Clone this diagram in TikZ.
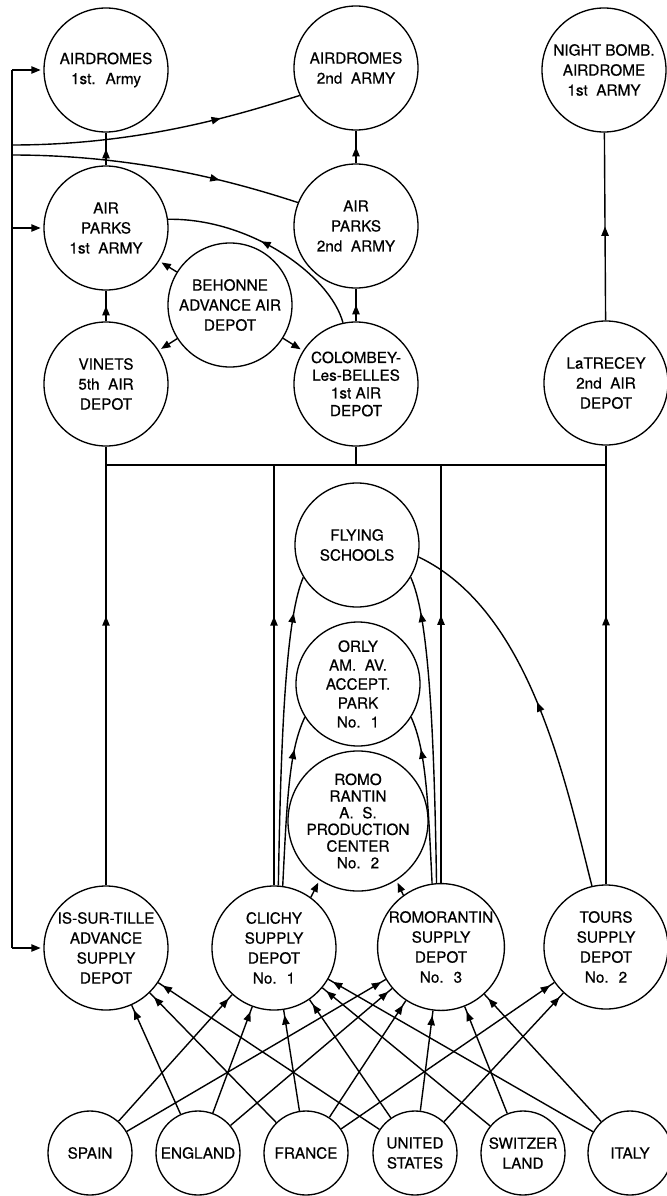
\documentclass[tikz,border=0pt]{standalone}
\usepackage{fontspec}
\setmainfont{TeX Gyre Heros}[FakeBold=0.5]
\usetikzlibrary{arrows.meta,decorations.markings}
\begin{document}
\begin{tikzpicture}[x=0.75pt,y=-0.75pt,
  box/.style={circle,draw,line width=1pt,minimum size=93pt,inner sep=0pt,align=center,font=\fontsize{11.5}{15}\selectfont},
  ctry/.style={box,minimum size=63pt},
  ln/.style={line width=1.05pt},
  marr/.style={ln,postaction={decorate},decoration={markings,mark=at position #1 with {\arrow{Triangle[length=7pt,width=5.5pt]}}}},
  endarr/.style={ln,-{Triangle[length=7pt,width=5.5pt]},shorten >=2pt}]
\useasboundingbox (0,0) rectangle (667,1196);
% nodes
\node[box] (a1) at (106,70) {AIRDROMES\\1st.~ Army};
\node[box] (a2) at (356,68) {AIRDROMES\\2nd~ ARMY};
\node[box] (nb) at (604,70) {NIGHT BOMB.\\AIRDROME\\1st~ ARMY};
\node[box] (p1) at (106,228) {AIR\\PARKS\\1st~ ARMY};
\node[box] (p2) at (356,226) {AIR\\PARKS\\2nd~ ARMY};
\node[box] (be) at (230,305) {BEHONNE\\ADVANCE AIR\\DEPOT};
\node[box] (vi) at (106,384) {VINETS\\5th~ AIR\\DEPOT};
\node[box,font=\fontsize{11.5}{13.3}\selectfont] (co) at (356,384) {COLOMBEY-\\Les-BELLES\\1st AIR\\DEPOT};
\node[box] (la) at (606,383) {LaTRECEY\\2nd~ AIR\\DEPOT};
\node[box] (fs) at (357,545) {FLYING\\SCHOOLS};
\node[box,font=\fontsize{11.5}{14.2}\selectfont] (or) at (358,684) {ORLY\\AM.~ AV.\\ACCEPT.\\PARK\\No.~ 1};
\node[box,font=\fontsize{11.5}{12.5}\selectfont] (ro) at (358,821) {ROMO\\RANTIN\\A.~ S.\\PRODUCTION\\CENTER\\No.~ 2};
\node[box] (is) at (106,948) {IS-SUR-TILLE\\ADVANCE\\SUPPLY\\DEPOT};
\node[box] (cl) at (274,948) {CLICHY\\SUPPLY\\DEPOT\\No.~ 1};
\node[box] (rm) at (441,947) {ROMORANTIN\\SUPPLY\\DEPOT\\No.~ 3};
\node[box] (to) at (606,947) {TOURS\\SUPPLY\\DEPOT\\No.~ 2};
\node[ctry] (sp) at (90,1153) {SPAIN};
\node[ctry] (en) at (198,1153) {ENGLAND};
\node[ctry] (fr) at (306,1153) {FRANCE};
\node[ctry] (us) at (415,1153) {UNITED\\STATES};
\node[ctry] (sw) at (523,1153) {SWITZER\\LAND};
\node[ctry] (it) at (630,1153) {ITALY};
% left feeder line
\coordinate (Ltop) at (12,70);
\coordinate (Lbot) at (12,948);
\coordinate (Lp) at (12,228);
\coordinate (Lc1) at (12,145);
\coordinate (Lc2) at (12,155);
\draw[ln] (Ltop) -- (Lbot);
\draw[endarr] (Ltop) -- (a1.west);
\draw[endarr] (Lp) -- (p1.west);
\draw[endarr] (Lbot) -- (is.west);
\draw[marr=0.72] (Lc1) .. controls (140,145) and (238,115) .. (a2.206);
\draw[marr=0.72] (Lc2) .. controls (140,155) and (238,183) .. (p2.158);
% upper connections
\draw[marr=0.5] (p1) -- (a1);
\draw[marr=0.5] (p2) -- (a2);
\draw[marr=0.5] (vi) -- (p1);
\draw[marr=0.5] (co) -- (p2);
\draw[marr=0.5] (la) -- (nb);
\draw[endarr] (be) -- (p1);
\draw[endarr] (be) -- (vi);
\draw[endarr] (be) -- (co);
\draw[marr=0.55] (co.102) .. controls (330,275) and (250,218) .. (p1.8);
% bus
\coordinate (busy) at (0,465);
\draw[ln] (vi.south |- busy) -- (la.south |- busy);
\draw[ln] (vi) -- (vi.south |- busy);
\draw[ln] (co) -- (co.south |- busy);
\draw[ln] (la) -- (la.south |- busy);
\draw[marr=0.64] (is) -- (is.north |- busy);
\draw[marr=0.64] (cl) -- (cl.north |- busy);
\draw[marr=0.64] (rm) -- (rm.north |- busy);
\draw[marr=0.64] (to) -- (to.north |- busy);
% middle connections
\draw[marr=0.88] (cl.86) .. controls (281,720) and (287,615) .. (fs.211);
\draw[marr=0.8] (cl.82) .. controls (287,800) and (289,750) .. (or.212);
\draw[marr=0.88] (rm.94) .. controls (434,720) and (428,615) .. (fs.329);
\draw[marr=0.8] (rm.98) .. controls (428,800) and (426,750) .. (or.328);
\draw[endarr] (cl.54) -- (ro.237);
\draw[endarr] (rm.126) -- (ro.303);
\draw[marr=0.5] (to.103) .. controls (565,780) and (530,610) .. (fs.349);
% countries to depots
\foreach \s/\t in {sp/cl,sp/rm,en/is,en/cl,en/rm,fr/is,fr/cl,fr/rm,fr/to,us/is,us/cl,us/rm,us/to,sw/cl,sw/rm,it/cl,it/rm}
  \draw[marr=-4pt] (\s) -- (\t);
\end{tikzpicture}
\end{document}
